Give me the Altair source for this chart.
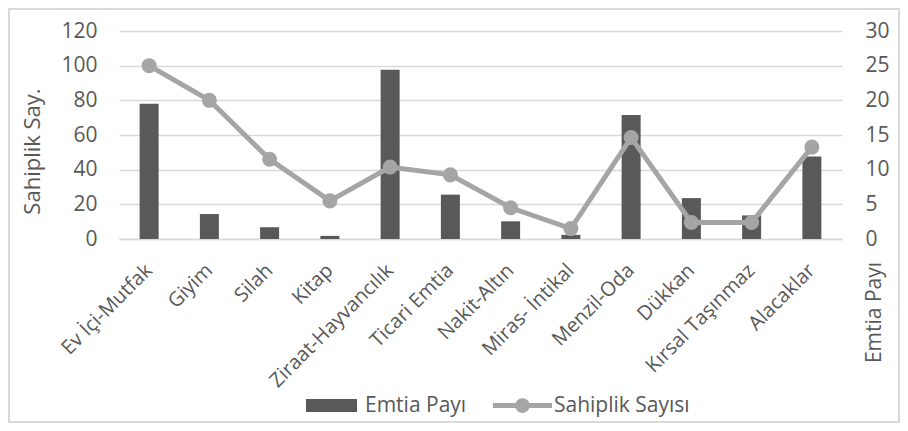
import altair as alt
import pandas as pd

categories = ["Ev İçi-Mutfak", "Giyim", "Silah", "Kitap", "Ziraat-Hayvancılık",
              "Ticari Emtia", "Nakit-Altın", "Miras- İntikal", "Menzil-Oda",
              "Dükkan", "Kırsal Taşınmaz", "Alacaklar"]
emtia_payi = [19.5, 3.6, 1.7, 0.45, 24.4, 6.4, 2.55, 0.6, 17.9, 5.9, 3.4, 11.9]
sahiplik_sayisi = [100, 80, 46, 22, 41.5, 37, 18, 6, 58.5, 9.5, 9.5, 53]
series_names = ["Emtia Payı", "Sahiplik Sayısı"]
series_colors = ["#595959", "#A5A5A5"]
left_ticks = [0, 20, 40, 60, 80, 100, 120]
right_ticks = [0, 5, 10, 15, 20, 25, 30]

bars_df = pd.DataFrame({"cat": categories, "val": emtia_payi, "series": series_names[0]})
line_df = pd.DataFrame({"cat": categories, "val": sahiplik_sayisi, "series": series_names[1]})

FONT = "Open Sans"
TXT = "#595959"
W, H = 723, 208
PAD = {"left": 111, "top": 23, "right": 58, "bottom": 184}

x_enc = alt.X("cat:N", sort=categories, title=None,
              scale=alt.Scale(paddingInner=0, paddingOuter=0),
              axis=alt.Axis(labelAngle=315, labelFontSize=20, labelColor=TXT,
                            labelFont=FONT, ticks=False, domainColor="#D9D9D9",
                            domainWidth=1.5, labelPadding=28, labelAlign="right",
                            labelBaseline="middle", grid=False, labelLimit=300))

rect_path = "M-1,-0.255H1V0.255H-1Z"
line_path = ("M-1,-0.085H1V0.085H-1Z M0.25,0 A0.25,0.25 0 1,1 -0.25,0 "
             "A0.25,0.25 0 1,1 0.25,0Z")

legend_bar = alt.Legend(
    orient="none", legendX=187, legendY=349, direction="horizontal",
    title=None, symbolSize=2601, symbolType=rect_path, symbolFillColor=series_colors[0],
    symbolStrokeWidth=0, symbolOpacity=1, labelFontSize=21, labelFont=FONT,
    labelColor=TXT, labelOffset=8,
)
legend_line = alt.Legend(
    orient="none", legendX=374, legendY=345, direction="horizontal",
    title=None, symbolSize=3481, symbolType=line_path, symbolFillColor=series_colors[1],
    symbolStrokeWidth=0, symbolOpacity=1, labelFontSize=21, labelFont=FONT,
    labelColor=TXT, labelOffset=2,
)

bars = alt.Chart(bars_df).mark_bar(size=19).encode(
    x=x_enc,
    y=alt.Y("val:Q", scale=alt.Scale(domain=[0, 30]),
            axis=alt.Axis(orient="right", values=right_ticks, title="Emtia Payı",
                          grid=False, ticks=False, domain=False, labelFontSize=21,
                          labelFont=FONT, labelColor=TXT, labelPadding=23,
                          titleFontSize=21, titleFont=FONT, titleColor=TXT,
                          titleFontWeight="normal", titleAngle=270, titleX=32,
                          titleY=281, titleAlign="center", titleBaseline="middle")),
    fill=alt.Fill("series:N", scale=alt.Scale(domain=[series_names[0]], range=[series_colors[0]]),
                  legend=legend_bar),
)

line = alt.Chart(line_df).mark_line(
    strokeWidth=5,
    point=alt.OverlayMarkDef(size=170, filled=True, opacity=1, fill=series_colors[1]),
).encode(
    x=x_enc,
    y=alt.Y("val:Q", scale=alt.Scale(domain=[0, 120]),
            axis=alt.Axis(orient="left", values=left_ticks, title="Sahiplik Say.",
                          grid=True, gridColor="#D9D9D9", gridWidth=1.5,
                          ticks=False, domain=False, labelFontSize=21,
                          labelFont=FONT, labelColor=TXT, labelPadding=22,
                          titleFontSize=22, titleFont=FONT, titleColor=TXT,
                          titleFontWeight="normal", titleAngle=270, titleX=-87,
                          titleY=120, titleAlign="center", titleBaseline="middle")),
    stroke=alt.Stroke("series:N", scale=alt.Scale(domain=[series_names[1]], range=[series_colors[1]]),
                      legend=legend_line),
)

border = alt.Chart(alt.Data(values=[{}])).mark_rect(
    fill="transparent", stroke="#D9D9D9", strokeWidth=2
).encode(
    x=alt.value(-PAD["left"] + 1), x2=alt.value(W + PAD["right"] - 1),
    y=alt.value(-PAD["top"] + 1), y2=alt.value(H + PAD["bottom"] - 1),
)

chart = alt.layer(border, bars, line).resolve_scale(y="independent").properties(
    width=W, height=H,
    autosize=alt.AutoSizeParams(type="none"),
    padding=PAD,
    background="white",
).configure_view(stroke=None)

chart.save("out.html", embed_options={"renderer": "svg", "actions": False})
